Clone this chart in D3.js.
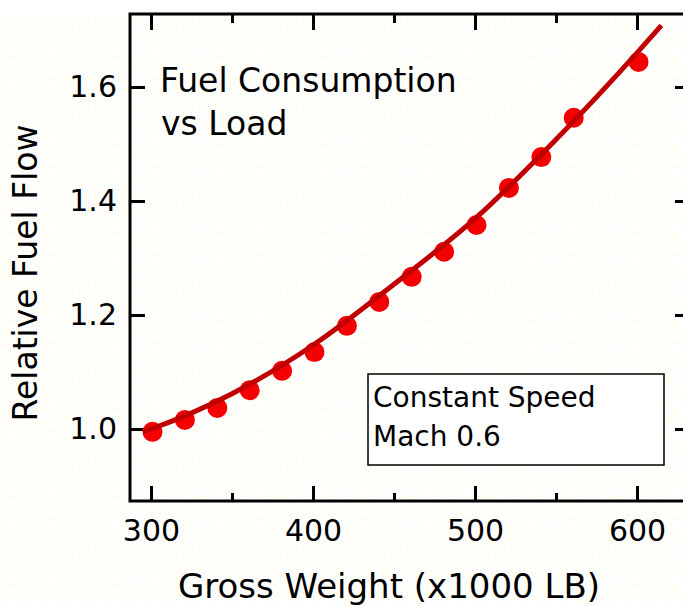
<!DOCTYPE html>
<html>
<head>
<meta charset="utf-8">
<script src="https://cdn.jsdelivr.net/npm/d3@7"></script>
<style>
  html, body { margin: 0; padding: 0; background: #ffffff; }
  svg { display: block; }
  text { font-family: "DejaVu Sans", Verdana, sans-serif; fill: #000; }
</style>
</head>
<body>
<svg id="chart" width="683" height="606"></svg>
<script>
// ---- data ----
const weights = [300, 320, 340, 360, 380, 400, 420, 440, 460, 480, 500, 520, 540, 560, 600];
const fuelFlow = [0.995, 1.016, 1.037, 1.068, 1.102, 1.135, 1.181, 1.223, 1.267, 1.311, 1.358, 1.423, 1.477, 1.546, 1.644];
const fitWeights = [295, 300, 350, 400, 450, 500, 550, 600, 615];
const fitFlow = [0.995, 1.0, 1.062, 1.147, 1.254, 1.369, 1.508, 1.660, 1.708];
const xMajorTicks = [300, 400, 500, 600];
const xMinorTicks = [350, 450, 550];
const yTicks = [1.0, 1.2, 1.4, 1.6];
const titleLines = ["Fuel Consumption", "vs Load"];
const noteLines = ["Constant Speed", "Mach 0.6"];
const xLabel = "Gross Weight (x1000 LB)";
const yLabel = "Relative Fuel Flow";

const svg = d3.select("#chart");
const W = 683, H = 606;
const L = 130, R = 690, T = 14, B = 501;

// faint dotted background
const defs = svg.append("defs");
const pat = defs.append("pattern").attr("id", "dots").attr("width", 13).attr("height", 11)
  .attr("patternUnits", "userSpaceOnUse");
pat.append("rect").attr("width", 13).attr("height", 11).attr("fill", "#fff");
[[1,2],[7,5],[4,9],[10,1]].forEach(p => pat.append("rect").attr("x", p[0]).attr("y", p[1])
  .attr("width", 1).attr("height", 1).attr("fill", "#fdf6a8"));
svg.append("rect").attr("x", 0).attr("y", T).attr("width", W).attr("height", H - T).attr("fill", "url(#dots)");

const x = d3.scaleLinear().domain([287.04, 632.7]).range([L, R]);
const y = d3.scaleLinear().domain([0.8737, 1.7281]).range([B, T]);

// frame
svg.append("rect").attr("x", L).attr("y", T).attr("width", R - L).attr("height", B - T)
  .attr("fill", "none").attr("stroke", "#000").attr("stroke-width", 3);

function styleAxis(g) {
  g.select(".domain").remove();
  g.selectAll(".tick line").attr("stroke", "#000").attr("stroke-width", 3);
  g.selectAll(".tick text").attr("font-family", "DejaVu Sans").attr("font-size", 30).attr("fill", "#000");
}

// bottom axis
svg.append("g").attr("transform", `translate(0,${B})`)
  .call(d3.axisBottom(x).tickValues(xMajorTicks).tickSize(-15).tickPadding(19).tickFormat(d3.format("d")))
  .call(styleAxis);
svg.append("g").attr("transform", `translate(0,${B})`)
  .call(d3.axisBottom(x).tickValues(xMinorTicks).tickSize(-8).tickFormat(""))
  .call(styleAxis);
// top axis
svg.append("g").attr("transform", `translate(0,${T})`)
  .call(d3.axisTop(x).tickValues(xMajorTicks).tickSize(-16).tickFormat(""))
  .call(styleAxis);
svg.append("g").attr("transform", `translate(0,${T})`)
  .call(d3.axisTop(x).tickValues(xMinorTicks).tickSize(-9).tickFormat(""))
  .call(styleAxis);
// left axis
svg.append("g").attr("transform", `translate(${L},0)`)
  .call(d3.axisLeft(y).tickValues(yTicks).tickSize(-15).tickPadding(13).tickFormat(d3.format(".1f")))
  .call(styleAxis);
// right axis
svg.append("g").attr("transform", `translate(${R},0)`)
  .call(d3.axisRight(y).tickValues(yTicks).tickSize(-15).tickFormat(""))
  .call(styleAxis);

// points
const pts = weights.map((w, i) => ({ w, f: fuelFlow[i] }));
svg.append("g").selectAll("circle").data(pts).join("circle")
  .attr("cx", d => x(d.w) + 1.5).attr("cy", d => y(d.f)).attr("r", 10)
  .attr("fill", "#f40000");

// fit curve
const fit = fitWeights.map((w, i) => ({ w, f: fitFlow[i] }));
svg.append("path").datum(fit)
  .attr("d", d3.line().x(d => x(d.w)).y(d => y(d.f)).curve(d3.curveMonotoneX))
  .attr("fill", "none").attr("stroke", "#c00000").attr("stroke-width", 5);

// title
svg.append("text").attr("x", 160).attr("y", 92).attr("font-size", 33).text(titleLines[0]);
svg.append("text").attr("x", 161).attr("y", 135).attr("font-size", 33).text(titleLines[1]);

// note box
svg.append("rect").attr("x", 368).attr("y", 374).attr("width", 296).attr("height", 91)
  .attr("fill", "#fff").attr("stroke", "#000").attr("stroke-width", 1.5);
svg.append("text").attr("x", 373).attr("y", 407).attr("font-size", 28).text(noteLines[0]);
svg.append("text").attr("x", 373).attr("y", 446).attr("font-size", 28).text(noteLines[1]);

// axis titles
svg.append("text").attr("x", 389).attr("y", 598).attr("text-anchor", "middle")
  .attr("font-size", 34).text(xLabel);
svg.append("text").attr("transform", "translate(37,273) rotate(-90)").attr("text-anchor", "middle")
  .attr("font-size", 33).text(yLabel);
</script>
</body>
</html>
